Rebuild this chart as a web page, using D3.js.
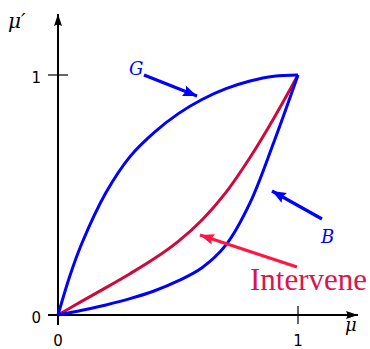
<!DOCTYPE html>
<html>
<head>
<meta charset="utf-8">
<script src="https://cdn.jsdelivr.net/npm/d3@7"></script>
<style>
  html, body { margin: 0; padding: 0; background: #fff; }
  svg { display: block; }
</style>
</head>
<body>
<svg id="chart" width="370" height="349"></svg>
<script>
// Curve samples (mu, mu')
const muG = [0, 0.05, 0.1, 0.2, 0.3, 0.4, 0.5, 0.6, 0.7, 0.8, 0.9, 1];
const valG = [0, 0.165, 0.3, 0.51, 0.66, 0.76, 0.838, 0.898, 0.943, 0.975, 0.995, 1];

const muI = [0, 0.1, 0.2, 0.3, 0.4, 0.5, 0.6, 0.7, 0.8, 0.9, 1];
const valI = [0, 0.058, 0.114, 0.172, 0.234, 0.306, 0.396, 0.511, 0.656, 0.821, 1];

const muB = [0, 0.1, 0.2, 0.3, 0.4, 0.5, 0.6, 0.7, 0.8, 0.9, 1];
const valB = [0, 0.02, 0.042, 0.068, 0.1, 0.142, 0.197, 0.292, 0.467, 0.722, 1];

const xTicks = [0, 1];
const yTicks = [0, 1];
const xTickLabels = ["0", "1"];
const yTickLabels = ["0", "1"];

const svg = d3.select("#chart");
const x = d3.scaleLinear().domain([0, 1]).range([58, 298]);
const y = d3.scaleLinear().domain([0, 1]).range([315, 75]);

const defs = svg.append("defs");
function arrowMarker(id, color, w, h) {
  defs.append("marker")
    .attr("id", id)
    .attr("viewBox", `0 0 ${w} ${h}`)
    .attr("refX", w).attr("refY", h / 2)
    .attr("markerWidth", w).attr("markerHeight", h)
    .attr("markerUnits", "userSpaceOnUse")
    .attr("orient", "auto")
    .append("path")
    .attr("d", `M0,0 L${w},${h / 2} L0,${h} L${w * 0.15},${h / 2} Z`)
    .attr("fill", color);
}
arrowMarker("axisHead", "#000", 12, 8);
arrowMarker("blueHead", "#0000ff", 14, 11);
arrowMarker("redHead", "#ff1744", 14, 11);

// Axes
svg.append("line")
  .attr("x1", x(0) - 10).attr("y1", y(0))
  .attr("x2", 358).attr("y2", y(0))
  .attr("stroke", "#000").attr("stroke-width", 2)
  .attr("marker-end", "url(#axisHead)");
svg.append("line")
  .attr("x1", x(0)).attr("y1", y(0) + 10)
  .attr("x2", x(0)).attr("y2", 14)
  .attr("stroke", "#000").attr("stroke-width", 2)
  .attr("marker-end", "url(#axisHead)");

// Ticks
svg.selectAll(".xt").data(xTicks).enter().append("line")
  .attr("x1", d => x(d)).attr("x2", d => x(d))
  .attr("y1", y(0) - 9).attr("y2", y(0) + 9)
  .attr("stroke", "#000").attr("stroke-width", 1.2);
svg.selectAll(".yt").data(yTicks).enter().append("line")
  .attr("y1", d => y(d)).attr("y2", d => y(d))
  .attr("x1", x(0) - 10).attr("x2", x(0) + 10)
  .attr("stroke", "#000").attr("stroke-width", 1.2);

svg.selectAll(".xl").data(xTicks).enter().append("text")
  .attr("x", d => x(d)).attr("y", 346)
  .attr("text-anchor", "middle")
  .attr("font-family", "DejaVu Sans, sans-serif").attr("font-size", 15)
  .text((d, i) => xTickLabels[i]);
svg.selectAll(".yl").data(yTicks).enter().append("text")
  .attr("x", 41).attr("y", d => y(d) + 8)
  .attr("text-anchor", "end")
  .attr("font-family", "DejaVu Sans, sans-serif").attr("font-size", 15)
  .text((d, i) => yTickLabels[i]);

// Axis names
svg.append("text").attr("x", 345).attr("y", 331)
  .attr("font-family", "DejaVu Serif, serif").attr("font-style", "italic")
  .attr("font-size", 18).text("μ");
svg.append("text").attr("x", 8).attr("y", 28)
  .attr("font-family", "DejaVu Serif, serif").attr("font-style", "italic")
  .attr("font-size", 20).text("μ′");

// Curves
const line = d3.line().x(d => x(d[0])).y(d => y(d[1])).curve(d3.curveCatmullRom.alpha(0.5));
function drawCurve(mu, val, color) {
  svg.append("path")
    .datum(mu.map((m, i) => [m, val[i]]))
    .attr("d", line)
    .attr("fill", "none")
    .attr("stroke", color)
    .attr("stroke-width", 3)
    .attr("stroke-linejoin", "round");
}
drawCurve(muI, valI, "#cc0a3c");
drawCurve(muG, valG, "#0000ff");
drawCurve(muB, valB, "#0000ff");

// Annotation arrows
function pointer(x1, y1, x2, y2, color, head) {
  svg.append("line")
    .attr("x1", x1).attr("y1", y1).attr("x2", x2).attr("y2", y2)
    .attr("stroke", color).attr("stroke-width", 3.2)
    .attr("marker-end", `url(#${head})`);
}
pointer(144, 75, 197, 96, "#0000ff", "blueHead");
pointer(322, 219, 272, 191, "#0000ff", "blueHead");
pointer(297, 267, 200, 235, "#ff1744", "redHead");

// Labels
svg.append("text").attr("x", 129).attr("y", 75)
  .attr("font-family", "DejaVu Serif, serif").attr("font-style", "italic")
  .attr("font-size", 18).attr("fill", "#0000ff").text("G");
svg.append("text").attr("x", 321).attr("y", 243)
  .attr("font-family", "DejaVu Serif, serif").attr("font-style", "italic")
  .attr("font-size", 18).attr("fill", "#0000ff").text("B");
svg.append("text").attr("x", 250).attr("y", 290)
  .attr("font-family", "Liberation Serif, serif")
  .attr("font-size", 31).attr("fill", "#d9164b").text("Intervene");
</script>
</body>
</html>
